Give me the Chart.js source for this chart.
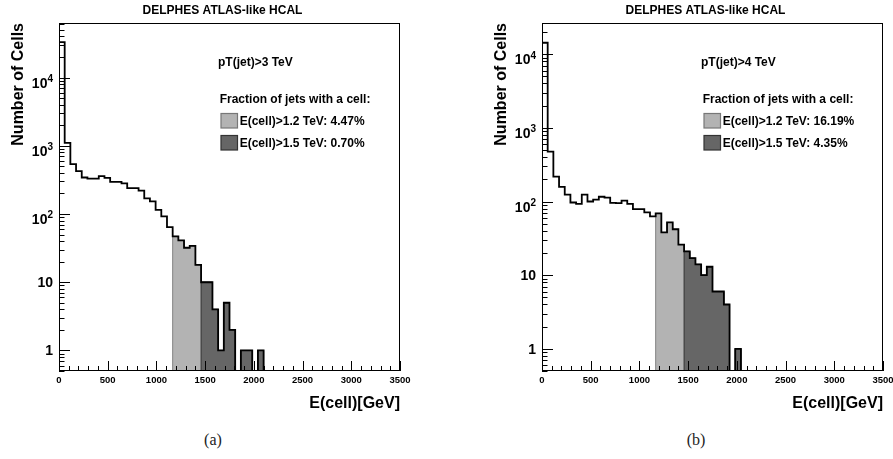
<!DOCTYPE html>
<html>
<head>
<meta charset="utf-8">
<script src="https://cdn.jsdelivr.net/npm/chart.js@4.4.0/dist/chart.umd.min.js"></script>
<style>
  html, body { margin: 0; padding: 0; background: #fff; }
  #page { position: relative; width: 893px; height: 459px; background: #fff; }
  canvas { position: absolute; top: 0; }
  .cap { position: absolute; top: 431px; width: 60px; text-align: center;
         font: 16px "Liberation Serif", "DejaVu Serif", serif; color: #222; }
</style>
</head>
<body>
<div id="page">
  <canvas id="chartA" width="446" height="420" style="left:0"></canvas>
  <canvas id="chartB" width="447" height="420" style="left:446px"></canvas>
  <div class="cap" style="left:183px">(a)</div>
  <div class="cap" style="left:666px">(b)</div>
</div>
<script>
// Purpose: two ROOT-style log histograms of HCAL cell energies, drawn with Chart.js

// binning: 60 bins from 0 to 3500 GeV
const eMin = 0;
const eMax = 3500;
const xTickValues = [0, 500, 1000, 1500, 2000, 2500, 3000, 3500];
const xMinorStep = 100;
const cutEnergies = [1200, 1500]; // thresholds of the shaded parts

// cells per bin (0 = empty bin)
const cellsPt3 = [
  33000, 1100, 540, 425, 343, 330, 330, 360, 338, 295,
  295, 282, 240, 240, 220, 169, 153, 115, 92, 64,
  47, 41, 32, 34, 18, 10, 10, 4, 1, 5,
  2, 0, 1, 1, 0, 1, 0, 0, 0, 0,
  0, 0, 0, 0, 0, 0, 0, 0, 0, 0,
  0, 0, 0, 0, 0, 0, 0, 0, 0, 0
];
const cellsPt4 = [
  14300, 475, 218, 158, 124, 97, 93, 124, 100, 106,
  116, 113, 96, 95, 103, 93, 79, 79, 71, 63,
  69, 38, 52, 42, 26, 21, 17, 14, 10, 13,
  6, 6, 4, 0, 1, 0, 0, 0, 0, 0,
  0, 0, 0, 0, 0, 0, 0, 0, 0, 0,
  0, 0, 0, 0, 0, 0, 0, 0, 0, 0
];

const yFloor = 0.5;
const yCeil = [63000, 26500];

const panelTitle = "DELPHES ATLAS-like HCAL";
const xTitle = "E(cell)[GeV]";
const yTitle = "Number of Cells";
const ptLabels = ["pT(jet)>3 TeV", "pT(jet)>4 TeV"];
const fractionHeader = "Fraction of jets with a cell:";
const cutLabels = ["E(cell)>1.2 TeV: ", "E(cell)>1.5 TeV: "];
const fractionsPt3 = ["4.47%", "0.70%"];
const fractionsPt4 = ["16.19%", "4.35%"];

const LIGHT = "#b3b3b3";
const DARK = "#666666";
const FONT = "'Liberation Sans', Arial, sans-serif";

// points at bin low edges for a 'before' stepped line, starting at bin `from`
function stepPoints(counts, from) {
  const w = (eMax - eMin) / counts.length;
  const pts = [{ x: eMin + from * w, y: yFloor }];
  for (let i = from; i < counts.length; i++) {
    pts.push({ x: eMin + i * w, y: counts[i] > 0 ? counts[i] : yFloor });
  }
  const last = counts[counts.length - 1];
  pts.push({ x: eMax, y: last > 0 ? last : yFloor });
  return pts;
}

function binOf(counts, e) {
  return Math.floor((e - eMin) / ((eMax - eMin) / counts.length));
}

const rootStyle = {
  id: "rootStyle",
  afterDatasetsDraw(chart, args, o) {
    const { ctx, chartArea: a, scales: { x, y } } = chart;
    ctx.save();
    ctx.fillStyle = "#000";
    ctx.strokeStyle = "#000";
    ctx.lineWidth = 1;

    // frame
    ctx.strokeRect(a.left + 0.5, a.top + 0.5, a.right - a.left - 1, a.bottom - a.top - 1);

    // x ticks, drawn inside the frame
    ctx.beginPath();
    for (let v = eMin; v <= eMax; v += xMinorStep) {
      const px = Math.round(x.getPixelForValue(v)) + 0.5;
      const len = xTickValues.includes(v) ? 10 : 5;
      ctx.moveTo(px, a.bottom);
      ctx.lineTo(px, a.bottom - len);
    }
    // y ticks on the log axis
    const d0 = Math.floor(Math.log10(y.min));
    const d1 = Math.ceil(Math.log10(y.max));
    for (let d = d0; d <= d1; d++) {
      for (let k = 1; k <= 9; k++) {
        const v = k * Math.pow(10, d);
        if (v < y.min || v > y.max) continue;
        const py = Math.round(y.getPixelForValue(v)) + 0.5;
        ctx.moveTo(a.left, py);
        ctx.lineTo(a.left + (k === 1 ? 11 : 5.5), py);
      }
    }
    ctx.stroke();

    // x tick labels
    ctx.font = "bold 9.5px " + FONT;
    ctx.textAlign = "center";
    ctx.textBaseline = "alphabetic";
    xTickValues.forEach(v => ctx.fillText(String(v), x.getPixelForValue(v), a.bottom + 12));

    // y tick labels: 1, 10, 10^n
    const right = a.left - 6;
    for (let d = Math.max(0, d0); d <= d1; d++) {
      const v = Math.pow(10, d);
      if (v < y.min || v > y.max) continue;
      const py = y.getPixelForValue(v);
      ctx.textAlign = "right";
      if (d <= 1) {
        ctx.font = "bold 14px " + FONT;
        ctx.fillText(String(v), right, py + 5);
      } else {
        ctx.font = "bold 10px " + FONT;
        const sup = String(d);
        ctx.fillText(sup, right, py + 4.5);
        const sw = ctx.measureText(sup).width;
        ctx.font = "bold 14px " + FONT;
        ctx.fillText("10", right - sw, py + 10);
      }
    }

    // titles
    ctx.font = "bold 12px " + FONT;
    ctx.textAlign = "center";
    ctx.fillText(panelTitle, (a.left + a.right) / 2 - 7, 14);
    ctx.font = "bold 16px " + FONT;
    ctx.textAlign = "right";
    ctx.fillText(xTitle, a.right, 408);
    ctx.save();
    ctx.translate(a.left - 35.8, a.top);
    ctx.rotate(-Math.PI / 2);
    ctx.fillText(yTitle, 0, 0);
    ctx.restore();

    // annotation and legend
    ctx.font = "bold 12px " + FONT;
    ctx.textAlign = "left";
    ctx.fillText(o.ptLabel, a.left + 159, 66);
    ctx.fillText(fractionHeader, a.left + 160.7, 102.5);
    const boxes = [[LIGHT, "#777777", 113.5], [DARK, "#333333", 135.5]];
    boxes.forEach(([fill, line, top], i) => {
      ctx.fillStyle = fill;
      ctx.strokeStyle = line;
      ctx.lineWidth = 1.2;
      ctx.fillRect(a.left + 162, top, 16.5, 14.5);
      ctx.strokeRect(a.left + 162, top, 16.5, 14.5);
      ctx.fillStyle = "#000";
      ctx.fillText(cutLabels[i] + o.fractions[i], a.left + 180.7, top + 11);
    });
    ctx.restore();
  }
};

function makeChart(id, counts, ceil, ptLabel, fractions, pad) {
  const lightFrom = binOf(counts, cutEnergies[0]);
  const darkFrom = binOf(counts, cutEnergies[1]);
  return new Chart(document.getElementById(id), {
    type: "line",
    data: {
      datasets: [
        { data: stepPoints(counts, 0), borderColor: "#000", borderWidth: 1.8, fill: false },
        { data: stepPoints(counts, darkFrom), borderColor: "#333333", borderWidth: 1,
          backgroundColor: DARK, fill: { value: yFloor } },
        { data: stepPoints(counts, lightFrom), borderColor: "#808080", borderWidth: 1,
          backgroundColor: LIGHT, fill: { value: yFloor } }
      ]
    },
    options: {
      responsive: false,
      animation: false,
      layout: { padding: pad },
      elements: {
        line: { stepped: "before", tension: 0 },
        point: { radius: 0, hoverRadius: 0 }
      },
      scales: {
        x: { type: "linear", min: eMin, max: eMax, display: false },
        y: { type: "logarithmic", min: yFloor, max: ceil, display: false }
      },
      plugins: {
        legend: { display: false },
        tooltip: { enabled: false },
        rootStyle: { ptLabel: ptLabel, fractions: fractions }
      }
    },
    plugins: [rootStyle]
  });
}

makeChart("chartA", cellsPt3, yCeil[0], ptLabels[0], fractionsPt3,
  { left: 59, right: 46, top: 23, bottom: 49 });
makeChart("chartB", cellsPt4, yCeil[1], ptLabels[1], fractionsPt4,
  { left: 96, right: 10, top: 23, bottom: 49 });
</script>
</body>
</html>
